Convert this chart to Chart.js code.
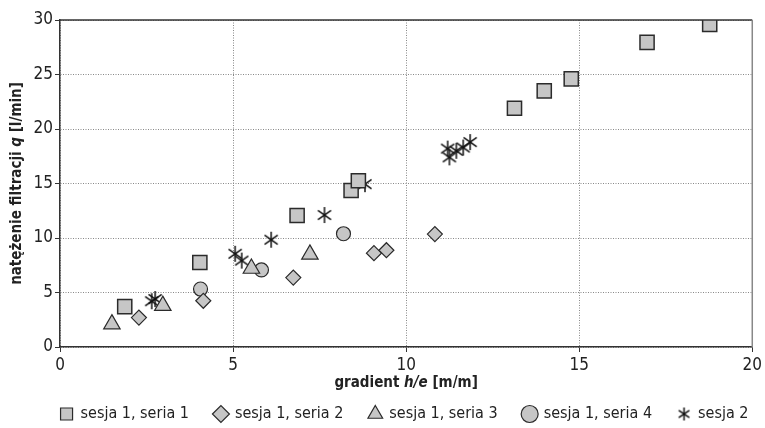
<!doctype html>
<html>
  <head>
    <meta charset="UTF-8">
    <title>gradient h/e</title>
    <style>
      body { margin: 0; background: #fff; }
      #box { width: 765px; height: 428px; }
    </style>
  </head>
  <body>
    <div id="box"><canvas id="myChart"></canvas></div>

    <script src="https://cdn.jsdelivr.net/npm/chart.js@4/dist/chart.umd.min.js"></script>
    <script>
      // dane
      var s1x = [1.87, 4.04, 6.85, 8.41, 8.62, 13.13, 13.99, 14.77, 16.96, 18.77];
      var s1y = [3.7, 7.75, 12.06, 14.36, 15.25, 21.9, 23.5, 24.6, 27.95, 29.6];
      var s2x = [2.28, 4.14, 6.74, 9.07, 9.43, 10.83];
      var s2y = [2.7, 4.24, 6.37, 8.61, 8.88, 10.36];
      var s3x = [1.5, 2.97, 5.53, 7.22];
      var s3y = [2.1, 3.8, 7.2, 8.5];
      var s4x = [4.06, 5.82, 8.19];
      var s4y = [5.32, 7.07, 10.39];
      var s5x = [2.65, 2.75, 5.06, 5.25, 6.10, 7.64, 8.81, 11.2, 11.25, 11.45, 11.65, 11.85];
      var s5y = [4.2, 4.4, 8.55, 7.93, 9.84, 12.11, 14.94, 18.2, 17.4, 18.0, 18.3, 18.8];
      var labels = ['sesja 1, seria 1', 'sesja 1, seria 2', 'sesja 1, seria 3', 'sesja 1, seria 4', 'sesja 2'];

      function pts(xs, ys){
        return xs.map(function(x, i){ return {x: x, y: ys[i]}; });
      }

      // gwiazdka z trzech kresek
      function makeStar(size){
        var cv = document.createElement('canvas');
        cv.width = size; cv.height = size;
        var sc = cv.getContext('2d');
        sc.strokeStyle = '#111';
        sc.lineWidth = 1.5;
        var h = size / 2;
        [90, 35, 145].forEach(function(a){
          var r = a * Math.PI / 180, dx = Math.cos(r) * (h - 1), dy = Math.sin(r) * (h - 1);
          sc.beginPath();
          sc.moveTo(h - dx, h - dy);
          sc.lineTo(h + dx, h + dy);
          sc.stroke();
        });
        return cv;
      }
      var star = makeStar(18);
      var starSmall = makeStar(15);

      var FONT = "'Liberation Sans Narrow', 'DejaVu Sans Condensed', Arial, sans-serif";
      var fill = '#c6c6c6';
      var edge = '#2b2b2b';

      // legenda troche w prawo, jak w oryginale
      var shiftLegend = {
        id: 'shiftLegend',
        afterLayout: function(chart){
          chart.legend.left += 26;
          chart.legend.right += 26;
        }
      };

      // ramka u gory i z prawej + tytuly osi z kursywa
      var frame = {
        id: 'frame',
        afterDraw: function(chart){
          var c = chart.ctx, a = chart.chartArea;
          c.save();
          c.lineWidth = 1.5;
          c.strokeStyle = '#333';
          c.beginPath(); c.moveTo(a.left, a.top); c.lineTo(a.right, a.top); c.stroke();
          c.strokeStyle = '#888';
          c.beginPath(); c.moveTo(a.right, a.top); c.lineTo(a.right, a.bottom); c.stroke();

          function title(parts, x, y, rot){
            c.save();
            c.translate(x, y);
            c.rotate(rot);
            c.fillStyle = '#222';
            c.textBaseline = 'middle';
            var w = 0;
            parts.forEach(function(p){
              c.font = (p[1] ? 'italic ' : '') + 'bold 15px ' + FONT;
              w += c.measureText(p[0]).width;
            });
            var cx = -w / 2;
            parts.forEach(function(p){
              c.font = (p[1] ? 'italic ' : '') + 'bold 15px ' + FONT;
              c.fillText(p[0], cx, 0);
              cx += c.measureText(p[0]).width;
            });
            c.restore();
          }
          title([['gradient ', false], ['h/e', true], [' [m/m]', false]], (a.left + a.right) / 2, 383, 0);
          title([['natężenie filtracji ', false], ['q', true], [' [l/min]', false]], 17, (a.top + a.bottom) / 2, -Math.PI / 2);
          c.restore();
        }
      };

      var ctx = document.getElementById('myChart');
      var myChart = new Chart(ctx, {
        type: 'scatter',
        data: {
          datasets: [
            {label: labels[0], data: pts(s1x, s1y), pointStyle: 'rect', pointRadius: 10, backgroundColor: fill, borderColor: edge, borderWidth: 1.5},
            {label: labels[1], data: pts(s2x, s2y), pointStyle: 'rectRot', pointRadius: 7.5, backgroundColor: fill, borderColor: edge, borderWidth: 1.2},
            {label: labels[2], data: pts(s3x, s3y), pointStyle: 'triangle', pointRadius: 9.5, backgroundColor: fill, borderColor: edge, borderWidth: 1.2},
            {label: labels[3], data: pts(s4x, s4y), pointStyle: 'circle', pointRadius: 7, backgroundColor: fill, borderColor: edge, borderWidth: 1.2},
            {label: labels[4], data: pts(s5x, s5y), pointStyle: star, pointRadius: 9, backgroundColor: fill, borderColor: edge}
          ]
        },
        options: {
          responsive: true,
          maintainAspectRatio: false,
          animation: false,
          layout: { padding: { left: 0, top: 20, right: 8, bottom: -4 } },
          plugins: {
            tooltip: { enabled: false },
            legend: {
              position: 'bottom',
              labels: {
                usePointStyle: true,
                boxHeight: 12,
                boxWidth: 12,
                padding: 26,
                color: '#222',
                font: { family: FONT, size: 16 },
                generateLabels: function(chart){
                  var items = Chart.defaults.plugins.legend.labels.generateLabels(chart);
                  items.forEach(function(it){
                    it.lineWidth = 1.2;
                    if (it.datasetIndex === 4) it.pointStyle = starSmall;
                  });
                  return items;
                }
              }
            }
          },
          scales: {
            x: {
              min: 0, max: 20,
              ticks: { stepSize: 5, color: '#222', padding: 3, font: { family: FONT, size: 17 } },
              grid: { color: '#888', tickColor: '#333', tickLength: 5, lineWidth: 1 },
              border: { color: '#333', width: 1.5, dash: [1, 1.5] },
              afterFit: function(s){ s.height = 33; }
            },
            y: {
              min: 0, max: 30,
              ticks: { stepSize: 5, color: '#222', padding: 2, font: { family: FONT, size: 17 } },
              grid: { color: '#888', tickColor: '#333', tickLength: 5, lineWidth: 1 },
              border: { color: '#333', width: 1.5, dash: [1, 1.5] },
              afterFit: function(s){ s.width = 60; }
            }
          }
        },
        plugins: [frame, shiftLegend]
      });
    </script>
  </body>
</html>
